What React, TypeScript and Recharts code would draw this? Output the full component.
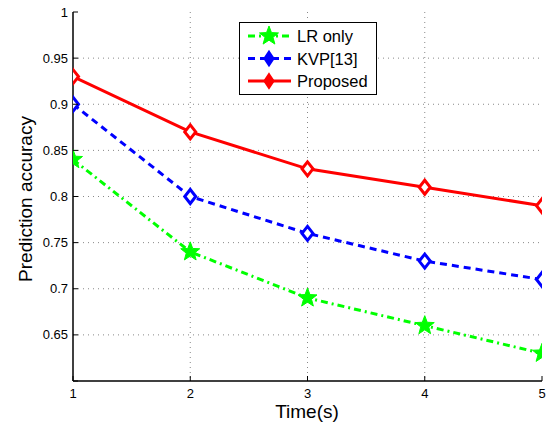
import React from "react";
import { LineChart, Line, XAxis, YAxis, CartesianGrid } from "recharts";

const times = [1, 2, 3, 4, 5];
const lrOnly = [0.84, 0.74, 0.69, 0.66, 0.63];
const kvp = [0.9, 0.8, 0.76, 0.73, 0.71];
const proposed = [0.93, 0.87, 0.83, 0.81, 0.79];
const xTicks = [1, 2, 3, 4, 5];
const yTicks = [0.6, 0.65, 0.7, 0.75, 0.8, 0.85, 0.9, 0.95, 1];
const seriesNames = ["LR only", "KVP[13]", "Proposed"];

const data = times.map((t, i) => ({ t, lr: lrOnly[i], kvp: kvp[i], prop: proposed[i] }));

const FONT = "'Liberation Sans', Arial, Helvetica, sans-serif";
const TL = 5;

const BottomTick = (props: any) => {
  const { x, y, payload } = props;
  return (
    <g>
      <line x1={x} y1={y} x2={x} y2={y - TL} stroke="#000" strokeWidth={1} />
      <text x={x} y={y + 16.5} textAnchor="middle" fontSize={13} fontFamily={FONT} fill="#000">
        {payload.value}
      </text>
    </g>
  );
};
const TopTick = (props: any) => {
  const { x, y } = props;
  return <line x1={x} y1={y} x2={x} y2={y + TL} stroke="#000" strokeWidth={1} />;
};
const LeftTick = (props: any) => {
  const { x, y, payload } = props;
  const v = payload.value;
  return (
    <g>
      <line x1={x} y1={y} x2={x + TL} y2={y} stroke="#000" strokeWidth={1} />
      {v > 0.601 ? (
        <text x={x - 5} y={y + 4.5} textAnchor="end" fontSize={13} fontFamily={FONT} fill="#000">
          {String(Math.round(v * 100) / 100)}
        </text>
      ) : null}
    </g>
  );
};
const RightTick = (props: any) => {
  const { x, y } = props;
  return <line x1={x} y1={y} x2={x - TL} y2={y} stroke="#000" strokeWidth={1} />;
};

const Star = (props: any) => {
  const { cx, cy, r = 10, color } = props;
  if (cx == null || cy == null) return null;
  const pts: string[] = [];
  for (let i = 0; i < 10; i++) {
    const rad = i % 2 === 0 ? r : r * 0.42;
    const a = -Math.PI / 2 + (i * Math.PI) / 5;
    pts.push(`${cx + rad * Math.cos(a)},${cy + rad * Math.sin(a)}`);
  }
  return <polygon points={pts.join(" ")} fill={color} stroke={color} strokeWidth={1} />;
};

const Diamond = (props: any) => {
  const { cx, cy, color, hw = 5.5, hh = 7, hollow = true } = props;
  if (cx == null || cy == null) return null;
  const d = `M${cx},${cy - hh} L${cx + hw},${cy} L${cx},${cy + hh} L${cx - hw},${cy} Z`;
  return <path d={d} fill={hollow ? "#fff" : color} stroke={color} strokeWidth={3} />;
};

const legendItems = [
  { label: seriesNames[0], color: "#00ff00", dash: "7 4 2 4", marker: "star" },
  { label: seriesNames[1], color: "#0000ff", dash: "7 5", marker: "diamond" },
  { label: seriesNames[2], color: "#ff0000", dash: undefined, marker: "diamond" },
];

const LegendBox = () => (
  <svg width={138} height={73} style={{ display: "block" }}>
    <rect x={0.5} y={0.5} width={137} height={72} fill="#fff" stroke="#000" strokeWidth={1} />
    {legendItems.map((it, i) => {
      const cy = 14 + i * 22.5;
      return (
        <g key={it.label}>
          <line x1={9} x2={52} y1={cy} y2={cy} stroke={it.color} strokeWidth={3} strokeDasharray={it.dash} />
          {it.marker === "star" ? (
            <Star cx={30} cy={cy} r={10} color={it.color} />
          ) : (
            <Diamond cx={30} cy={cy} color={it.color} hw={4} hh={6} hollow={false} />
          )}
          <text x={58} y={cy + 6} fontSize={16.5} fontFamily={FONT} fill="#000">
            {it.label}
          </text>
        </g>
      );
    })}
  </svg>
);

export default function App() {
  return (
    <div style={{ position: "absolute", left: 0, top: 0, width: 549, height: 426, background: "#fff" }}>
      <LineChart width={549} height={426} data={data} margin={{ top: 12, right: 7, left: 0, bottom: 0 }}>
        <CartesianGrid
          stroke="#888"
          strokeDasharray="1 4"
          strokeWidth={1}
          horizontalValues={[0.65, 0.7, 0.75, 0.8, 0.85, 0.9, 0.95]}
          verticalValues={[2, 3, 4]}
        />
        <XAxis
          dataKey="t"
          type="number"
          domain={[1, 5]}
          ticks={xTicks}
          height={45}
          tickSize={0}
          tickMargin={0}
          tickLine={false}
          tick={<BottomTick />}
          axisLine={{ stroke: "#000", strokeWidth: 1.5 }}
          interval={0}
          allowDataOverflow
        />
        <XAxis
          xAxisId="top"
          orientation="top"
          dataKey="t"
          type="number"
          domain={[1, 5]}
          ticks={xTicks}
          height={0}
          tickSize={0}
          tickMargin={0}
          tickLine={false}
          tick={<TopTick />}
          axisLine={{ stroke: "#000", strokeWidth: 1.5 }}
          interval={0}
        />
        <YAxis
          type="number"
          domain={[0.6, 1]}
          ticks={yTicks}
          width={73}
          tickSize={0}
          tickMargin={0}
          tickLine={false}
          tick={<LeftTick />}
          axisLine={{ stroke: "#000", strokeWidth: 1.5 }}
          interval={0}
          allowDataOverflow
        />
        <YAxis
          yAxisId="right"
          orientation="right"
          type="number"
          domain={[0.6, 1]}
          ticks={yTicks}
          width={0}
          tickSize={0}
          tickMargin={0}
          tickLine={false}
          tick={<RightTick />}
          axisLine={{ stroke: "#000", strokeWidth: 1.5 }}
          interval={0}
        />
        <Line
          dataKey="lr"
          name={seriesNames[0]}
          stroke="#00ff00"
          strokeWidth={3}
          strokeDasharray="7 4 2 4"
          isAnimationActive={false}
          dot={(p: any) => <Star key={`s${p.index}`} cx={p.cx} cy={p.cy} r={10} color="#00ff00" />}
          activeDot={false}
        />
        <Line
          dataKey="kvp"
          name={seriesNames[1]}
          stroke="#0000ff"
          strokeWidth={3}
          strokeDasharray="7 5"
          isAnimationActive={false}
          dot={(p: any) => <Diamond key={`k${p.index}`} cx={p.cx} cy={p.cy} color="#0000ff" />}
          activeDot={false}
        />
        <Line
          dataKey="prop"
          name={seriesNames[2]}
          stroke="#ff0000"
          strokeWidth={3}
          isAnimationActive={false}
          dot={(p: any) => <Diamond key={`p${p.index}`} cx={p.cx} cy={p.cy} color="#ff0000" />}
          activeDot={false}
        />
        <text x={307} y={418} textAnchor="middle" fontSize={19} fontFamily={FONT} fill="#000">
          Time(s)
        </text>
        <text
          x={32}
          y={199}
          textAnchor="middle"
          fontSize={19}
          fontFamily={FONT}
          fill="#000"
          transform="rotate(-90 32 199)"
        >
          Prediction accuracy
        </text>
      </LineChart>
      <div style={{ position: "absolute", left: 239, top: 22 }}>
        <LegendBox />
      </div>
    </div>
  );
}
